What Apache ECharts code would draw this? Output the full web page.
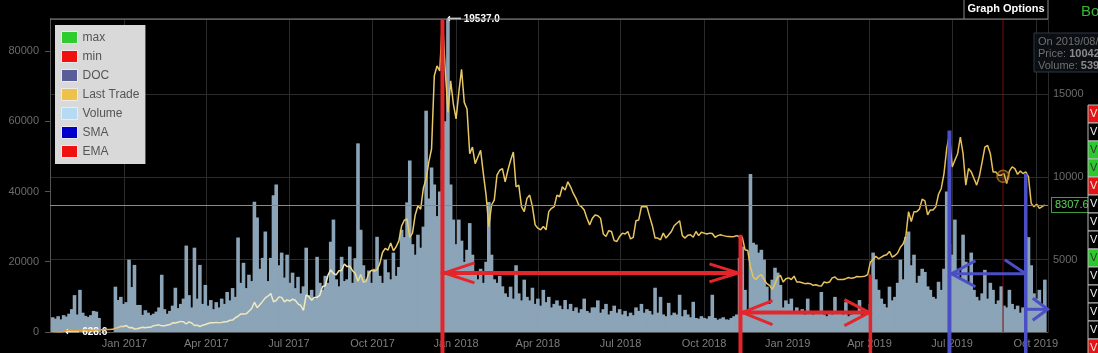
<!DOCTYPE html>
<html>
<head>
<meta charset="utf-8">
<script src="https://cdn.jsdelivr.net/npm/echarts@6/dist/echarts.min.js"></script>
<style>
  html, body { margin: 0; padding: 0; background: #000; }
  #main { width: 1098px; height: 353px; }
</style>
</head>
<body>
<div id="main"></div>
<script>
// one sample every 3 days, starting 14 Oct 2016
const startDate = [2016, 9, 14];
const stepDays = 3;

const price = [
  638, 641, 631, 628.6, 657, 700,
  730, 705, 711, 715, 705, 744, 750, 737, 740, 732,
  754, 765, 768, 775, 780, 785, 790, 860, 895, 975, 962,
  1020, 890, 905, 810, 820, 870, 920, 890, 920, 920,
  1010, 1030, 1060, 1000, 1000, 1050, 1080, 1180, 1170,
  1220, 1270, 1240, 1110, 1240, 1170, 1020, 1040, 960, 1040, 1080,
  1140, 1190, 1190, 1210, 1180, 1210, 1250, 1250, 1340, 1350,
  1490, 1580, 1720, 1720, 1730, 1880, 2050, 2430, 2100, 2280,
  2480, 2690, 2800, 2950, 2450, 2530, 2750, 2720, 2450, 2570,
  2500, 2610, 2550, 2330, 2230, 1930, 2870, 2760, 2550, 2720,
  2720, 2860, 3380, 3420, 4060, 4380, 4160, 4080, 4330, 4350, 4740,
  4580, 4600, 4330, 4170, 3700, 4100, 3630, 3700, 4200, 4360,
  4310, 4370, 4760, 5430, 5680, 5570, 6010, 5530, 5780, 6130,
  7030, 7380, 7460, 6350, 6600, 7700, 8250, 8050, 9330, 9880,
  10900, 11700, 16100, 16700, 16400, 19537, 16500, 13900, 15800, 14400,
  13500, 15100, 16500, 14500, 14100, 11400, 11800, 10800, 11200, 11600, 10200,
  8900, 7000, 8300, 8600, 10100, 10400, 10500, 9700, 10400,
  11000, 11500, 9400, 9500, 8200, 7900, 8700, 8900, 8200, 7100,
  6900, 6800, 7000, 6800, 7900, 8100, 8200, 8900, 8800, 9400,
  9200, 9700, 9400, 9000, 8700, 8300, 8200, 8000, 7500, 7100, 7500,
  7700, 7650, 7500, 6550, 6400, 6750, 6700, 6150, 6100, 6400,
  6600, 6550, 6700, 6250, 6350, 7350, 7400, 8200, 8200, 8200,
  7600, 7050, 6300, 6300, 6200, 6600, 6300, 6500, 6700, 7050,
  7200, 7350, 6450, 6300, 6480, 6500, 6350, 6700, 6450, 6650,
  6600, 6550, 6600, 6580, 6350, 6450, 6500, 6450, 6420, 6400, 6380,
  6400, 6450, 6370, 6350, 5600, 5550, 4550, 3950, 3800, 4000,
  4100, 3800, 3550, 3450, 3200, 3550, 3950, 4050, 3650, 3850,
  3900, 3800, 4000, 3650, 3650, 3600, 3550, 3580, 3550, 3450,
  3480, 3420, 3400, 3650, 3600, 3650, 3900, 3950, 3800, 3800,
  3800, 3850, 3920, 3870, 3900, 3980, 3970, 3980, 4000, 4100,
  4850, 5000, 5200, 5050, 5150, 5250, 5300, 5500, 5150, 5250,
  5400, 5750, 5950, 6400, 7900, 7300, 7900, 7900, 8050, 8650,
  8550, 7700, 8000, 8000, 8200, 8950, 9300, 10200, 11700, 12600,
  10600, 11000, 11400, 12400, 11400, 9500, 10500, 10300, 9900, 9500, 10050,
  10900, 11800, 11900, 11400, 10300, 10300, 10100, 10100, 10200, 9600,
  10350, 10600, 10500, 10150, 10350, 10200, 10300, 10000, 8400, 8200,
  8350, 8100, 8200, 8307.6
];

const volume = [
  4200, 3800, 4500, 3600, 4800, 4400,
  5200, 6500, 10500, 5000, 12000, 5500, 4600, 4300, 4800, 6000,
  5800, 4000, 0, 0, 0, 0, 0, 12900, 9100, 10000, 8000,
  8500, 20600, 12800, 19100, 7700, 7700, 4900, 6200, 5500, 4800,
  5200, 5800, 7000, 16300, 6500, 5200, 6000, 7500, 12600,
  6800, 8000, 9500, 24600, 10500, 7000, 24000, 9500, 19100, 8000, 13400,
  7500, 9100, 6500, 8500, 7000, 9500, 8000, 11400, 9000, 12500,
  10000, 26900, 14000, 19700, 12500, 16300, 14500, 37100, 32600, 18000,
  21100, 28600, 14500, 21100, 38900, 42000, 19000, 22600, 15500, 22000,
  14000, 16900, 12500, 15700, 11000, 13000, 24000, 10500, 12000, 9500,
  21400, 14000, 12000, 16000, 14000, 25700, 32000, 15000, 13000, 21400, 14500,
  15000, 24300, 14000, 21000, 53700, 29100, 19000, 15000, 17500, 14000,
  18000, 27100, 16000, 14000, 20600, 17000, 15000, 22600, 16000, 18500,
  29100, 27000, 36900, 48800, 25000, 22000, 27700, 24000, 30000, 63000,
  38000, 46800, 42000, 33000, 40000, 52000, 60000, 89100, 42000, 32000,
  25000, 32000, 26000, 20000, 23400, 31000, 22000, 17000, 15000, 18000, 14000,
  20000, 37000, 22000, 15000, 14000, 16000, 13000, 11000, 10000,
  12900, 9500, 19000, 11000, 9000, 14900, 10000, 9000, 12600, 8000,
  9500, 7500, 12000, 8500, 10000, 7000, 8000, 9000, 7500, 6500,
  9100, 6500, 8000, 6000, 7000, 5500, 6500, 9500, 6000, 5500, 7000,
  7000, 9000, 5500, 6500, 8000, 5000, 6000, 7500, 5500, 6500,
  5000, 6000, 4500, 5500, 4800, 7000, 6000, 8000, 5500, 6500,
  6000, 5000, 12600, 5500, 10000, 5000, 4500, 8300, 4800, 5500,
  5000, 10600, 4500, 6300, 5000, 4200, 8600, 4000, 3800, 4500,
  4000, 3800, 4500, 10600, 4000, 3500, 3800, 4200, 3600, 3500, 4000,
  4500, 5000, 21100, 24300, 12000, 6000, 45000, 25400, 24900, 22600,
  23400, 20600, 12900, 8000, 14900, 18300, 16900, 13400, 7000, 9000,
  8000, 9500, 6000, 7000, 5500, 6500, 5000, 9500, 6000, 5000,
  5500, 6000, 11400, 5000, 4500, 6000, 5000, 10000, 5500, 6000,
  5000, 8500, 4500, 5000, 6000, 5500, 9100, 4500, 5000, 5500,
  8000, 22600, 15000, 12000, 9500, 8000, 7000, 12900, 9000, 10000,
  14000, 20600, 15000, 27100, 28600, 19000, 22000, 14000, 16000, 18000,
  17100, 13000, 12000, 10000, 9500, 14300, 12000, 18000, 40000, 25000,
  22000, 32000, 18000, 15000, 27700, 20000, 14000, 22600, 12000, 10000, 9000,
  11000, 17700, 9500, 14000, 12000, 8000, 9000, 13000, 7500, 7000,
  12000, 8000, 6500, 7500, 5500, 7000, 8500, 27000, 19000, 11000,
  9500, 12000, 8000, 14900
];

const monthNames = ['Jan', 'Feb', 'Mar', 'Apr', 'May', 'Jun', 'Jul', 'Aug', 'Sep', 'Oct', 'Nov', 'Dec'];
const legendNames = ['max', 'min', 'DOC', 'Last Trade', 'Volume', 'SMA', 'EMA'];
const legendColors = ['#2ecc2e', '#f01010', '#5a5e98', '#eec24a', '#b5daf3', '#0000cc', '#f01010'];
const lastPrice = 8307.6;

window.onload = function () {
  const chart = echarts.init(document.getElementById('main'));
  const DAY = 24 * 3600 * 1000;
  const font = 'Liberation Sans, Arial, sans-serif';
  const day = (y, m, d) => new Date(y, m - 1, d).getTime();

  const dates = price.map((p, i) => new Date(startDate[0], startDate[1], startDate[2] + i * stepDays).getTime());
  const priceData = price.map((p, i) => [dates[i], p]);
  const volData = volume.map((v, i) => [dates[i], v]);

  const priceMin = Math.min(...price);
  const priceMax = Math.max(...price);
  const volMax = Math.max(...volume);

  const lineColor = new echarts.graphic.LinearGradient(0, 0, 1, 0, [
    { offset: 0, color: '#e89b2f' },
    { offset: 0.06, color: '#e9a73c' },
    { offset: 0.075, color: '#efe7bb' },
    { offset: 0.28, color: '#f1ebc2' },
    { offset: 0.34, color: '#e8c968' },
    { offset: 1, color: '#e6bf55' }
  ]);

  const dummy = ['max', 'min', 'DOC', 'SMA', 'EMA'].map(n => ({ name: n, type: 'line', data: [] }));

  chart.setOption({
    animation: false,
    backgroundColor: '#000',
    textStyle: { fontFamily: font },
    grid: { left: 50, top: 19, width: 998, height: 313, containLabel: false, outerBoundsMode: 'none' },
    legend: {
      orient: 'vertical',
      left: 55,
      top: 25,
      backgroundColor: '#d9d9d9',
      padding: 6,
      itemGap: 6,
      itemWidth: 16,
      itemHeight: 12,
      icon: 'rect',
      selectedMode: false,
      textStyle: { color: '#555', fontSize: 12, fontFamily: font },
      data: legendNames.map((n, i) => ({
        name: n,
        itemStyle: { color: legendColors[i], borderColor: '#ececec', borderWidth: 1 }
      }))
    },
    xAxis: {
      type: 'time',
      min: day(2016, 10, 13),
      max: day(2019, 10, 12) + DAY / 2,
      minInterval: 91 * DAY,
      maxInterval: 92 * DAY,
      axisLine: { lineStyle: { color: '#555' } },
      axisTick: { show: false },
      axisLabel: {
        color: '#7d7d7d',
        fontSize: 11,
        margin: 6,
        formatter: v => {
          const d = new Date(v);
          return monthNames[d.getMonth()] + ' ' + d.getFullYear();
        }
      },
      splitLine: { show: true, lineStyle: { color: '#2b2b2b' } }
    },
    yAxis: [
      {
        type: 'value',
        position: 'left',
        min: 0,
        max: volMax,
        interval: 20000,
        axisLine: { show: true, lineStyle: { color: '#555' } },
        axisTick: { show: true, length: 5, lineStyle: { color: '#555' } },
        axisLabel: { color: '#6b6b6b', fontSize: 11, margin: 11, showMaxLabel: false, formatter: v => String(v) },
        splitLine: { show: false }
      },
      {
        type: 'value',
        position: 'right',
        min: priceMin,
        max: priceMax,
        splitNumber: 4,
        axisLine: { show: false },
        axisTick: { show: false },
        axisLabel: { color: '#6b6b6b', fontSize: 11, margin: 5, showMinLabel: false, showMaxLabel: false, formatter: v => String(v) },
        splitLine: { show: true, lineStyle: { color: '#2b2b2b' } }
      }
    ],
    series: [
      {
        name: 'Volume',
        type: 'bar',
        yAxisIndex: 0,
        data: volData,
        barWidth: 3.6,
        itemStyle: { color: '#8ba4b7' },
        z: 2
      },
      {
        name: 'Last Trade',
        type: 'line',
        yAxisIndex: 1,
        data: priceData,
        symbol: 'none',
        showSymbol: false,
        lineStyle: { width: 1.5, color: lineColor },
        itemStyle: { color: '#e6bf55' },
        z: 5,
        markPoint: {
          symbol: 'circle',
          symbolSize: 1,
          itemStyle: { color: 'rgba(0,0,0,0)' },
          label: {
            show: true,
            position: 'right',
            distance: 4,
            color: '#fff',
            fontWeight: 'bold',
            fontSize: 10,
            formatter: p => '\u27f5 ' + Number(p.value).toFixed(1)
          },
          data: [{ type: 'max' }, { type: 'min' }]
        },
        markLine: {
          symbol: 'none',
          silent: true,
          lineStyle: { color: 'rgba(0,0,0,0)', width: 1, type: 'solid' },
          label: {
            show: true,
            position: 'end',
            distance: 4,
            formatter: String(lastPrice),
            color: '#5ad65a',
            fontSize: 11,
            backgroundColor: '#000',
            borderColor: '#3e9e3e',
            borderWidth: 1,
            padding: [2, 3, 1, 3]
          },
          data: [{ yAxis: lastPrice }]
        }
      }
    ].concat(dummy)
  });

  // hand-drawn annotations, anchored on dates / prices
  const px = (t, v) => chart.convertToPixel({ seriesIndex: 1 }, [t, v]);
  const red = '#e3262b';
  const blue = '#4b4fc6';
  const bottom = 353;

  const vline = (x, y1, c, w) => ({ type: 'line', z: 100, shape: { x1: x, y1: y1, x2: x, y2: bottom }, style: { stroke: c, lineWidth: w } });
  const hline = (x1, x2, y, c, w) => ({ type: 'line', z: 100, shape: { x1: x1, y1: y, x2: x2, y2: y }, style: { stroke: c, lineWidth: w } });
  const chevron = (x, y, dx, dy, c, w) => ({ type: 'polyline', z: 100, shape: { points: [[x + dx, y - dy], [x, y], [x + dx, y + dy]] }, style: { stroke: c, lineWidth: w, fill: null } });

  const r1 = px(day(2017, 12, 17), priceMax);
  const r2 = px(day(2018, 11, 10), 6500);
  const r3 = px(day(2019, 4, 2), 4100);
  const b1 = px(day(2019, 6, 28), 12800);
  const b2 = px(day(2019, 9, 20), 10200);
  const ya1 = px(dates[0], 4200)[1];
  const ya2 = px(dates[0], 1800)[1];
  const yb1 = px(dates[0], 4150)[1];
  const yb2 = px(dates[0], 2000)[1];
  const yLast = Math.round(px(dates[0], lastPrice)[1]) + 0.5;
  const hover = px(day(2019, 8, 26), 10042);

  const graphics = [
    // last trade level line
    { type: 'line', z: 60, shape: { x1: 50, y1: yLast, x2: 1048, y2: yLast }, style: { stroke: '#4fb54f', lineWidth: 1 } },
    { type: 'line', z: 90, shape: { x1: hover[0], y1: 19, x2: hover[0], y2: 332 }, style: { stroke: '#7a0c0c', lineWidth: 1 } },
    { type: 'circle', z: 91, shape: { cx: hover[0], cy: hover[1], r: 6 }, style: { fill: 'rgba(200,150,50,0.18)', stroke: 'rgba(190,130,40,0.75)', lineWidth: 1.5 } },

    vline(r1[0], r1[1], red, 4),
    hline(r1[0], r2[0], ya1, red, 4),
    chevron(r1[0] + 2, ya1, 30, 10, red, 3),
    chevron(r2[0] - 2, ya1, -29, 9, red, 3),
    vline(r2[0], r2[1], red, 4),
    hline(r2[0], r3[0], ya2, red, 4),
    chevron(r2[0] + 2, ya2, 30, 12, red, 3),
    chevron(r3[0] - 1, ya2, -25, 13, red, 3),
    vline(r3[0], r3[1], red, 3.5),

    vline(b1[0], b1[1], blue, 4),
    hline(b1[0], b2[0], yb1, blue, 3),
    chevron(b1[0] + 2, yb1, 24, 13, blue, 3),
    { type: 'polyline', z: 100, shape: { points: [[b2[0] - 21, yb1 - 14], [b2[0], yb1]] }, style: { stroke: blue, lineWidth: 3, fill: null } },
    vline(b2[0], b2[1], blue, 3.5),
    hline(b2[0], b2[0] + 22, yb2, blue, 3),
    chevron(b2[0] + 22, yb2, -15, 11, blue, 3),

    // frame and header
    { type: 'line', z: 95, shape: { x1: 50, y1: 19, x2: 1048, y2: 19 }, style: { stroke: '#8a8a8a', lineWidth: 1 } },
    { type: 'line', z: 95, shape: { x1: 964, y1: 0, x2: 964, y2: 19 }, style: { stroke: '#888', lineWidth: 1 } },
    { type: 'line', z: 95, shape: { x1: 1048, y1: 0, x2: 1048, y2: 19 }, style: { stroke: '#888', lineWidth: 1 } },
    { type: 'text', z: 95, x: 1006, y: 9, style: { text: 'Graph Options', fill: '#fff', font: 'bold 11px ' + font, align: 'center', verticalAlign: 'middle' } },
    { type: 'text', z: 95, x: 1081, y: 12, style: { text: 'Bo', fill: '#38b538', font: '15px ' + font, verticalAlign: 'middle' } },

    // hover tooltip (cut by the window edge)
    { type: 'rect', z: 96, shape: { x: 1034, y: 33, width: 80, height: 39 }, style: { fill: 'rgba(12,16,22,0.92)', stroke: '#2c3845', lineWidth: 1 } },
    {
      type: 'text', z: 97, x: 1038, y: 36,
      style: {
        text: 'On 2019/08/2\nPrice: {b|10042}\nVolume: {b|539}',
        fill: '#6f6f6f',
        font: '11px ' + font,
        lineHeight: 12,
        rich: { b: { fill: '#8a8a8a', fontWeight: 'bold', fontSize: 11 } }
      }
    }
  ];

  // clipped side panel on the right
  const cellColors = ['#e41414', '#000', '#2dc82d', '#2dc82d', '#e41414', '#000', '#000', '#000', '#2dc82d', '#000', '#000', '#000', '#000', '#e41414'];
  cellColors.forEach((c, i) => {
    const y = 105 + i * 18;
    graphics.push({ type: 'rect', z: 96, shape: { x: 1088, y: y, width: 12, height: 18 }, style: { fill: c, stroke: '#bbb', lineWidth: 1 } });
    graphics.push({ type: 'text', z: 97, x: 1090, y: y + 9, style: { text: 'V', fill: c === '#2dc82d' ? '#333' : '#eee', font: '11px ' + font, verticalAlign: 'middle' } });
  });

  chart.setOption({ graphic: graphics });
};
</script>
</body>
</html>
